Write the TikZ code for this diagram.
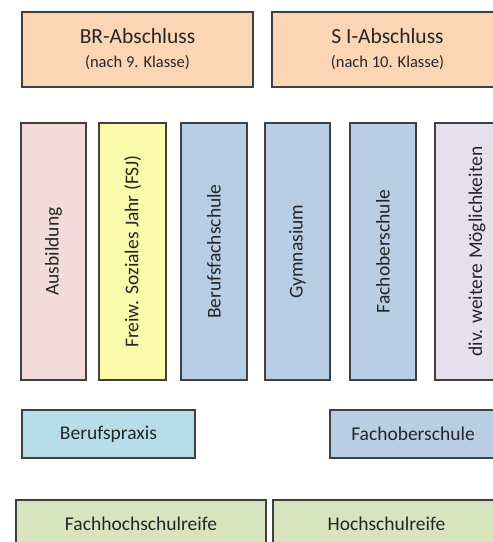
\documentclass[tikz,border=0pt]{standalone}
\usepackage{fontspec}
\setmainfont{Carlito}
\definecolor{rahmen}{RGB}{64,64,64}
\definecolor{pfirsich}{RGB}{252,213,181}
\definecolor{rosa}{RGB}{242,220,219}
\definecolor{gelb}{RGB}{250,250,170}
\definecolor{hellblau}{RGB}{185,205,229}
\definecolor{lila}{RGB}{230,224,236}
\definecolor{tuerkis}{RGB}{183,222,232}
\definecolor{oliv}{RGB}{215,228,189}
\tikzset{
  kasten/.style={draw=rahmen, line width=1.3pt, inner sep=0pt, align=center,
    font=\fontsize{19.5}{23}\selectfont, text=black!85},
  senkrecht/.style={kasten, rotate=90, minimum width=257pt}
}
\begin{document}
\begin{tikzpicture}[x=1pt,y=-1pt]
      \useasboundingbox (0,0) rectangle (493,542);
      \clip (0,0) rectangle (493,542);
      % Abschluesse
      \node[kasten, fill=pfirsich, minimum width=231pt, minimum height=75pt] (br) at (137.5,49.5)
        {{\fontsize{21.5}{26}\selectfont BR-Abschluss}\\[1pt]{\fontsize{16.5}{20}\selectfont (nach 9. Klasse)}};
      \node[kasten, fill=pfirsich, minimum width=231pt, minimum height=75pt] (si) at (387.5,49.5)
        {{\fontsize{21.5}{26}\selectfont S I-Abschluss}\\[1pt]{\fontsize{16.5}{20}\selectfont (nach 10. Klasse)}};
      % Wege danach
      \node[senkrecht, fill=rosa, minimum height=65pt] (aus) at (53.5,251.5) {Ausbildung};
      \node[senkrecht, fill=gelb, minimum height=67pt] (fsj) at (132.5,251.5) {Freiw. Soziales Jahr (FSJ)};
      \node[senkrecht, fill=hellblau, minimum height=66pt] (bfs) at (214,251.5) {Berufsfachschule};
      \node[senkrecht, fill=hellblau, minimum height=65pt] (gym) at (297.5,251.5) {Gymnasium};
      \node[senkrecht, fill=hellblau, minimum height=66pt] (fos) at (383,251.5) {Fachoberschule};
      \node[senkrecht, fill=lila, minimum height=84pt] (div) at (477,251.5) {div. weitere Möglichkeiten};
      % Zwischenstufe
      \node[kasten, fill=tuerkis, minimum width=173pt, minimum height=48pt] (bpx) at (108.5,434) {Berufspraxis};
      \node[kasten, fill=hellblau, minimum width=166pt, minimum height=48pt] (fos2) at (413,434) {Fachoberschule};
      % Reife
      \node[kasten, fill=oliv, minimum width=250pt, minimum height=48pt] (fhr) at (141,524) {Fachhochschulreife};
      \node[kasten, fill=oliv, minimum width=227pt, minimum height=48pt] (hsr) at (386.5,524) {Hochschulreife};
\end{tikzpicture}
\end{document}
